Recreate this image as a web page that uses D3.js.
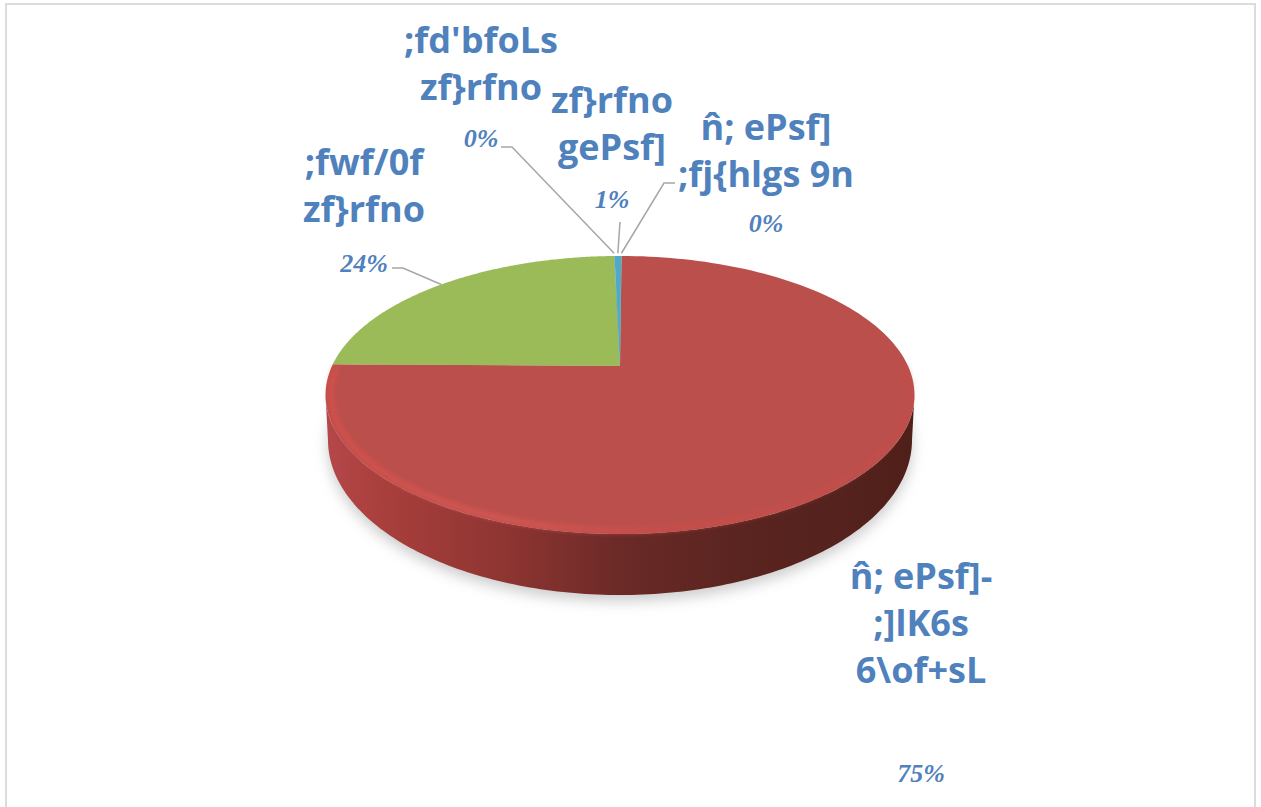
<!DOCTYPE html>
<html><head><meta charset="utf-8">
<script src="https://cdn.jsdelivr.net/npm/d3@7"></script>
<style>html,body{margin:0;padding:0;background:#fff;overflow:hidden}svg{display:block}</style>
</head><body><svg id="c" width="1261" height="807"></svg>
<script>
const categories = [
  ["n̂; ePsf]", ";fj{hlgs 9n"],
  ["n̂; ePsf]-", ";]lK6s", "6\\of+sL"],
  [";fwf/0f", "zf}rfno"],
  [";fd'bfoLs", "zf}rfno"],
  ["zf}rfno", "gePsf]"]
];
const seriesValues = [0.02, 75.1, 24.4, 0.03, 0.45];
const percentLabels = ["0%", "75%", "24%", "0%", "1%"];
const sliceColors = ["#4f81bd", "#bb4f4c", "#9bbb59", "#8064a2", "#4bacc6"];

const W = 1261, H = 807;
const svg = d3.select("#c");
const defs = svg.append("defs");

// perspective projection of the pie disc
const cx = 620, apexY = 366, B = 288, A = 133, k = 0.2086;
const project = (a, r = 1) => {
  const u = r * Math.sin(a), v = r * Math.cos(a), d = 1 + k * v;
  return [cx + B * u / d, apexY - A * v / d];
};
const projectBase = (a, dy = 0) => [cx + 292 * Math.sin(a), 440 + dy - 155 * Math.cos(a)];
const rot = 0.3 * Math.PI / 180;
const pie = d3.pie().sort(null).value(d => d).startAngle(rot).endAngle(2 * Math.PI + rot);
const arcs = pie(seriesValues);
const line = d3.line();
const sweep = (f, a0, a1) => d3.range(0, 161).map(i => f(a0 + (a1 - a0) * i / 160));
const rim = (a0, a1, r = 1) => sweep(a => project(a, r), a0, a1);

// shadow
const blur = defs.append("filter").attr("id", "sh").attr("x", "-20%").attr("y", "-20%").attr("width", "140%").attr("height", "140%");
blur.append("feGaussianBlur").attr("stdDeviation", 7);
svg.append("path")
  .attr("d", line(sweep(a => projectBase(a, 6), 0, 2 * Math.PI)) + "Z")
  .attr("fill", "#b5b5b5").attr("opacity", 0.7).attr("filter", "url(#sh)");

// side wall
const sideGrad = defs.append("linearGradient").attr("id", "side")
  .attr("gradientUnits", "userSpaceOnUse").attr("x1", 326).attr("x2", 914).attr("y1", 0).attr("y2", 0);
[[0, "#b5474a"], [0.1, "#a83f3c"], [0.3, "#8f3532"], [0.5, "#6b2a27"], [0.7, "#5a2420"], [0.88, "#55221d"], [1, "#4f1f1a"]]
  .forEach(([o, c]) => sideGrad.append("stop").attr("offset", o).attr("stop-color", c));
const ext = Math.asin(k);
const wall = rim(Math.PI / 2 + ext, 1.5 * Math.PI - ext)
  .concat(sweep(projectBase, Math.PI / 2, 1.5 * Math.PI).reverse());
svg.append("path").attr("d", line(wall) + "Z").attr("fill", "url(#side)");

// top face slices
const soft = defs.append("filter").attr("id", "sf").attr("x", "-5%").attr("y", "-5%").attr("width", "110%").attr("height", "110%");
soft.append("feGaussianBlur").attr("stdDeviation", 2.4);
const edge = defs.append("filter").attr("id", "ed").attr("x", "-5%").attr("y", "-5%").attr("width", "110%").attr("height", "110%");
edge.append("feGaussianBlur").attr("stdDeviation", 0.6);
svg.append("g").attr("filter", "url(#ed)").selectAll("path").data(arcs).join("path")
  .attr("d", d => "M" + cx + "," + apexY + "L" + rim(d.startAngle, d.endAngle).map(p => p.join(",")).join("L") + "Z")
  .attr("fill", (d, i) => sliceColors[i]);

// bevel along the front rim of the large slice
const bevelGrad = defs.append("linearGradient").attr("id", "bev")
  .attr("gradientUnits", "userSpaceOnUse").attr("x1", 326).attr("x2", 914).attr("y1", 0).attr("y2", 0);
[[0, "#da504c"], [0.3, "#dc5a55"], [0.55, "#cb4e4a"], [0.8, "#c64e4a"], [1, "#c24e4a"]]
  .forEach(([o, c]) => bevelGrad.append("stop").attr("offset", o).attr("stop-color", c));
const red = arcs[1];
svg.append("path").attr("d", line(rim(Math.PI / 2, red.endAngle - 0.02, 0.982)))
  .attr("fill", "none").attr("stroke", "url(#bev)").attr("stroke-width", 5)
  .attr("stroke-opacity", 0.85).attr("filter", "url(#sf)");

// leader lines
const leaders = [
  { i: 2, pts: [[392, 268], [403, 268]], r: 1.0 },
  { i: 3, pts: [[501, 147], [512, 147]], r: 1.03 },
  { i: 4, pts: [[620, 222]], r: 1.03 },
  { i: 0, pts: [[675, 183], [664, 183]], r: 1.03 }
];
svg.append("g").selectAll("path").data(leaders).join("path")
  .attr("d", d => {
    const a = arcs[d.i], m = (a.startAngle + a.endAngle) / 2;
    return line(d.pts.concat([project(m, d.r)]));
  })
  .attr("fill", "none").attr("stroke", "#a6a6a6").attr("stroke-width", 1.5);

// category labels
const blue = "#4f81bd";
const labelPos = [
  { x: 766, y: 140 },
  { x: 921, y: 589 },
  { x: 364, y: 175 },
  { x: 481, y: 53 },
  { x: 612, y: 113 }
];
const lh = 47;
categories.forEach((lines, i) => {
  const t = svg.append("text").attr("text-anchor", "middle")
    .attr("font-family", "'Open Sans','Noto Sans',sans-serif").attr("font-weight", 700)
    .attr("font-size", 36).attr("fill", blue);
  lines.forEach((s, j) => t.append("tspan").attr("x", labelPos[i].x).attr("y", labelPos[i].y + j * lh).text(s));
});

// percentage labels
const pctPos = [[766, 232], [921, 782], [364, 272], [481, 147], [612, 208]];
svg.append("g").selectAll("text").data(percentLabels).join("text")
  .attr("x", (d, i) => pctPos[i][0]).attr("y", (d, i) => pctPos[i][1])
  .attr("text-anchor", "middle")
  .attr("font-family", "'Liberation Serif',serif").attr("font-style", "italic").attr("font-weight", 700)
  .attr("font-size", 26).attr("fill", blue).text(d => d);

// chart frame
svg.append("path").attr("d", `M6,${H}V4H1255V${H}`).attr("fill", "none").attr("stroke", "#dcdcdc").attr("stroke-width", 2);
</script></body></html>
